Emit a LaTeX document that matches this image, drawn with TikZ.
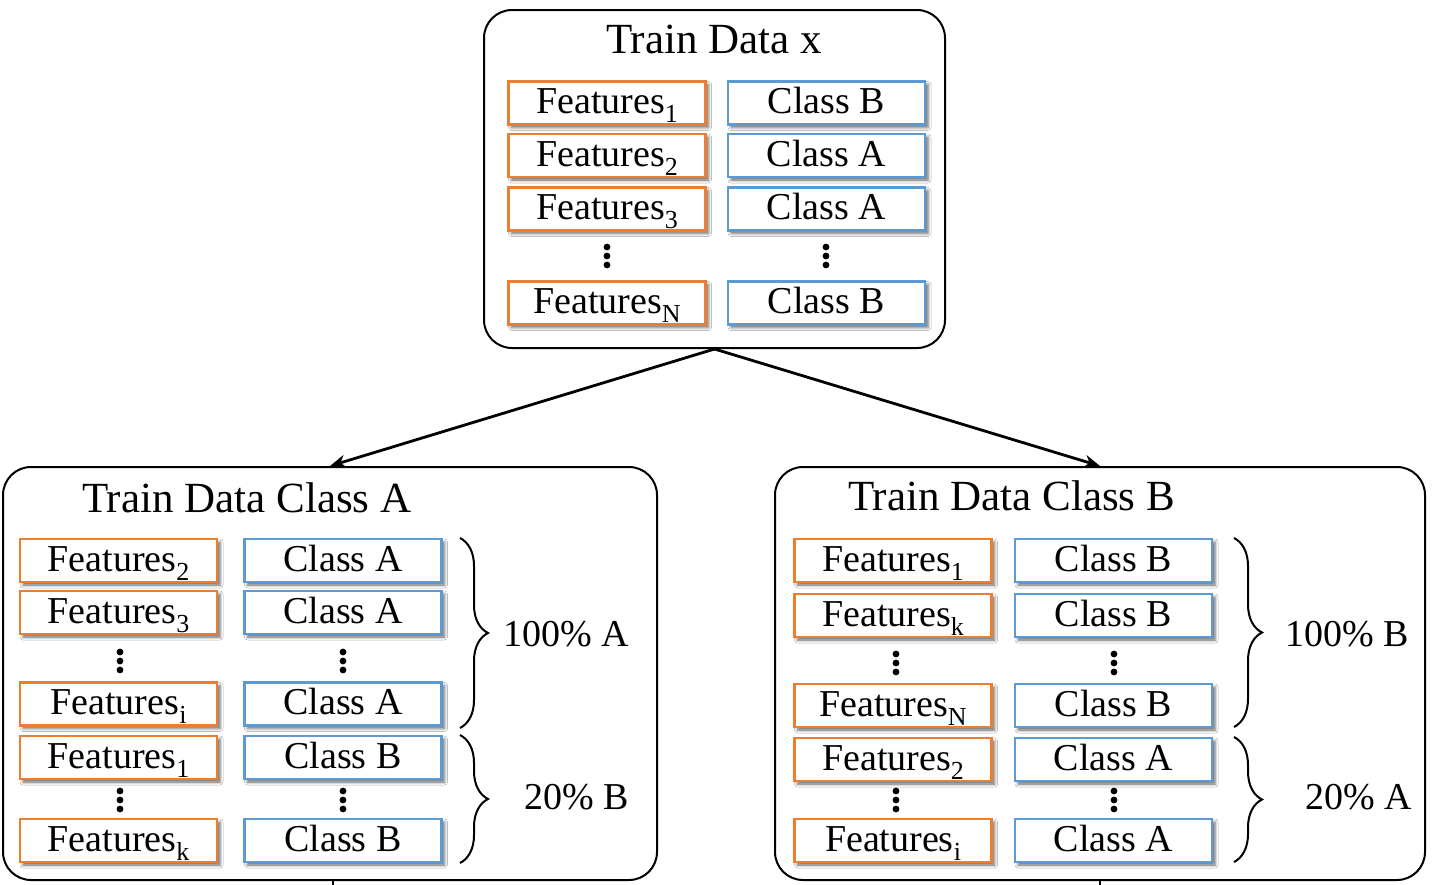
\documentclass[tikz,border=0pt]{standalone}
\usepackage{fontspec}
\setmainfont{Liberation Serif}
\usetikzlibrary{arrows.meta,shadows.blur,decorations.pathreplacing}
\definecolor{forange}{RGB}{237,125,49}
\definecolor{cblue}{RGB}{91,155,213}
\newcommand{\subidx}[1]{\raisebox{-9pt}{\fontsize{26}{26}\selectfont #1}}
\newcommand{\vdotsat}[2]{\fill (#1,#2-9) circle (3.4) (#1,#2) circle (3.4) (#1,#2+9) circle (3.4);}
\begin{document}
\begin{tikzpicture}[x=1pt,y=-1pt,
  cell/.style={line width=2.8pt, fill=white, minimum width=197pt, minimum height=43pt,
    text height=27pt, text depth=6pt, inner sep=0pt, font=\fontsize{38}{40}\selectfont,
    blur shadow={shadow xshift=3pt, shadow yshift=-3pt, shadow blur radius=3pt, shadow opacity=60}},
  feat/.style={cell, draw=forange},
  cls/.style={cell, draw=cblue},
  outer/.style={draw=black, line width=2pt, rounded corners=28pt, inner sep=0pt},
  title/.style={font=\fontsize{43}{46}\selectfont, inner sep=0pt},
  pct/.style={font=\fontsize{38}{40}\selectfont, inner sep=0pt, anchor=west},
  conn/.style={line width=2.8pt, -{Stealth[length=16pt,width=13pt]}},
  brc/.style={decorate, decoration={brace, amplitude=28pt}, line width=2pt}
]
\useasboundingbox (0,0) rectangle (1433,884);
\fill[white] (0,0) rectangle (1433,884);

% outer boxes
\node[outer, minimum width=461pt, minimum height=338pt] (top) at (714.5,179) {};
\node[outer, minimum width=654pt, minimum height=413pt] (bl) at (330,673.5) {};
\node[outer, minimum width=650pt, minimum height=413pt] (br) at (1100,673.5) {};

% titles
\node[title, anchor=base] (t0) at (714,53) {Train Data x};
\node[title, anchor=base west] (t1) at (82,512) {Train Data Class A};
\node[title, anchor=base west] (t2) at (848,510) {Train Data Class B};

% top box rows
\node[feat] (f01) at (607,103) {Features\subidx{1}};
\node[feat] (f02) at (607,155.5) {Features\subidx{2}};
\node[feat] (f03) at (607,209) {Features\subidx{3}};
\node[feat] (f04) at (607,303) {Features\subidx{N}};
\node[cls] (c01) at (826.5,103) {Class B};
\node[cls] (c02) at (826.5,155.5) {Class A};
\node[cls] (c03) at (826.5,209) {Class A};
\node[cls] (c04) at (826.5,303) {Class B};
\vdotsat{607}{256}
\vdotsat{826}{256}

% bottom-left rows
\node[feat] (f11) at (118.5,560.5) {Features\subidx{2}};
\node[feat] (f12) at (118.5,612.5) {Features\subidx{3}};
\node[feat] (f13) at (118.5,704) {Features\subidx{i}};
\node[feat] (f14) at (118.5,757.5) {Features\subidx{1}};
\node[feat] (f15) at (118.5,840.5) {Features\subidx{k}};
\node[cls] (c11) at (343,560.5) {Class A};
\node[cls] (c12) at (343,612.5) {Class A};
\node[cls] (c13) at (343,704) {Class A};
\node[cls] (c14) at (343,757.5) {Class B};
\node[cls] (c15) at (343,840.5) {Class B};
\vdotsat{120}{661}
\vdotsat{343}{661}
\vdotsat{120}{800}
\vdotsat{343}{800}

% bottom-right rows
\node[feat] (f21) at (893,560.5) {Features\subidx{1}};
\node[feat] (f22) at (893,615.5) {Features\subidx{k}};
\node[feat] (f23) at (893,705.5) {Features\subidx{N}};
\node[feat] (f24) at (893,759.5) {Features\subidx{2}};
\node[feat] (f25) at (893,840.5) {Features\subidx{i}};
\node[cls] (c21) at (1113.5,560.5) {Class B};
\node[cls] (c22) at (1113.5,615.5) {Class B};
\node[cls] (c23) at (1113.5,705.5) {Class B};
\node[cls] (c24) at (1113.5,759.5) {Class A};
\node[cls] (c25) at (1113.5,840.5) {Class A};
\vdotsat{896}{663}
\vdotsat{1114}{663}
\vdotsat{896}{800}
\vdotsat{1114}{800}

% braces
\draw[brc] (460,538) -- (460,728);
\draw[brc] (460,735) -- (460,863);
\draw[brc] (1234,538) -- (1234,727);
\draw[brc] (1234,737) -- (1234,862);

% brace labels
\node[pct] (p11) at (503,634) {100\% A};
\node[pct] (p12) at (524,797) {20\% B};
\node[pct] (p21) at (1285,634) {100\% B};
\node[pct] (p22) at (1305,797) {20\% A};

% connectors
\draw[conn] (top.south) -- (bl.north);
\draw[conn] (top.south) -- (br.north);
\coordinate (sl) at (333,890);
\coordinate (sr) at (1100,890);
\draw[line width=2pt] (bl.south -| sl) -- (sl);
\draw[line width=2pt] (br.south -| sr) -- (sr);
\end{tikzpicture}
\end{document}
